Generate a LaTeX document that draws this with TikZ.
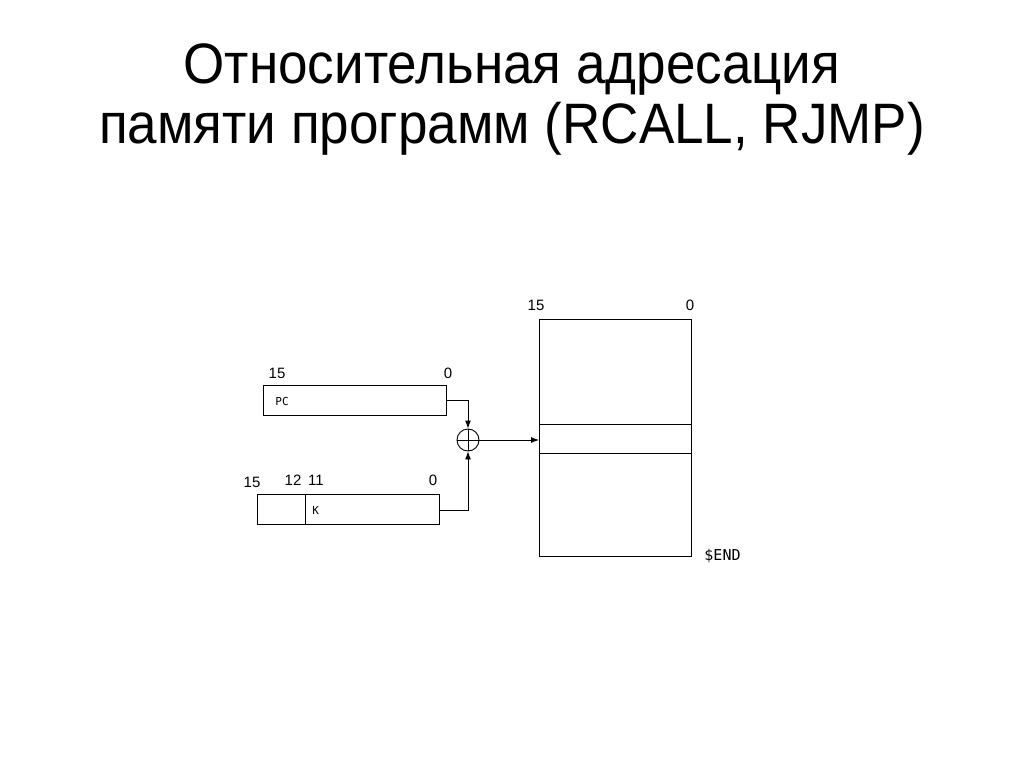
\documentclass[tikz,border=0pt]{standalone}
\usepackage{fontspec}
\setmainfont{Liberation Sans}
\newfontfamily\monof{DejaVu Sans Mono}
\usetikzlibrary{arrows.meta}
\begin{document}
\begin{tikzpicture}[x=1pt,y=-1pt,line width=0.9pt,
  lbl/.style={inner sep=0pt,font=\fontsize{15}{15}\selectfont},
  sm/.style={inner sep=0pt,font=\monof\fontsize{11}{11}\selectfont},
  arr/.style={-{Latex[length=8pt,width=6pt]}}]
\useasboundingbox (0,0) rectangle (1024,767);
\node[font=\fontsize{57}{60}\selectfont,align=center] (title) at (512,100) {\scalebox{0.93}[1]{Относительная адресация}\\\scalebox{0.93}[1]{памяти программ (RCALL, RJMP)}};
\node[draw,minimum width=183,minimum height=30,inner sep=0,line width=1pt] (pc) at (354.5,400) {};
\node[sm,anchor=west] (pct) at (275,401) {PC};
\node[lbl] (p15) at (277,373) {15};
\node[lbl] (p0) at (448,373) {0};
\node[draw,minimum width=182,minimum height=30,inner sep=0,line width=1pt] (k) at (348,509) {};
\draw[line width=1pt] (305,494) -- (305,524);
\node[sm,anchor=west] (kt) at (312,510) {K};
\node[lbl] (k15) at (252,482) {15};
\node[lbl] (k12) at (293,480) {12};
\node[lbl] (k11) at (316,480) {11};
\node[lbl] (k0) at (433,480) {0};
\node[draw,circle,minimum size=22,inner sep=0] (sum) at (468,440) {};
\draw[line width=0.6pt] (sum.north) -- (sum.south) (sum.west) -- (sum.east);
\node[draw,minimum width=152,minimum height=237,inner sep=0,line width=1pt] (mem) at (615,437.5) {};
\draw[line width=1pt] (539,424) -- (691,424);
\draw[line width=0.6pt] (539,453) -- (691,453);
\node[lbl] (m15) at (536,305) {15};
\node[lbl] (m0) at (690,305) {0};
\node[sm,font=\monof\fontsize{15}{15}\selectfont,anchor=west] (end) at (704,556) {\$END};
\coordinate (c1) at (468,400);
\coordinate (c2) at (468,510);
\coordinate (m) at (539,440);
\draw[arr] (pc.east |- c1) -- (c1) -- (sum.north);
\draw[arr] (k.east |- c2) -- (c2) -- (sum.south);
\draw[arr] (sum.east) -- (m);
\end{tikzpicture}
\end{document}
